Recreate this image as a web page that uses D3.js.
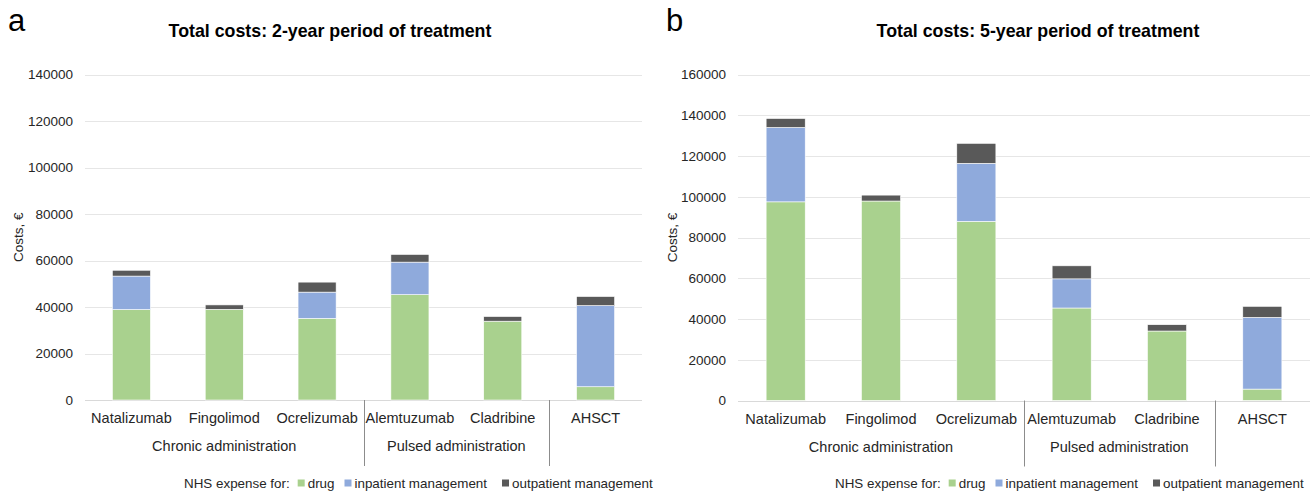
<!DOCTYPE html>
<html>
<head>
<meta charset="utf-8">
<script src="https://cdn.jsdelivr.net/npm/d3@7"></script>
<style>
  body { margin: 0; background: #fff; }
  svg { font-family: "Liberation Sans", Arial, sans-serif; }
</style>
</head>
<body>
<svg id="chart" width="1316" height="494"></svg>
<script>
// categories and groups
const categories = ["Natalizumab", "Fingolimod", "Ocrelizumab", "Alemtuzumab", "Cladribine", "AHSCT"];
const groupNames = ["Chronic administration", "Pulsed administration", ""];
const groupStart = [0, 3, 5];
const groupEnd = [2, 4, 5];
const seriesKeys = ["drug", "inpatient", "outpatient"];
const seriesLabels = ["drug", "inpatient management", "outpatient management"];

// 2-year period
const drug2 = [38900, 39000, 35100, 45300, 33900, 5700];
const inpatient2 = [14400, 0, 11300, 14000, 0, 34900];
const outpatient2 = [2500, 1900, 4300, 3300, 2000, 3900];
const ticks2 = [0, 20000, 40000, 60000, 80000, 100000, 120000, 140000];

// 5-year period
const drug5 = [97500, 97900, 87900, 45400, 34100, 5600];
const inpatient5 = [36500, 0, 28500, 14300, 0, 35200];
const outpatient5 = [4400, 2900, 9800, 6400, 3100, 5400];
const ticks5 = [0, 20000, 40000, 60000, 80000, 100000, 120000, 140000, 160000];

const colors = { drug: "#a9d18e", inpatient: "#8faadc", outpatient: "#595959" };
const textColor = "#262626";

const svg = d3.select("#chart");

function drawPanel(opt) {
	const g = svg.append("g");

	const rows = categories.map((c, i) => ({
		name: c, drug: opt.drug[i], inpatient: opt.inpatient[i], outpatient: opt.outpatient[i]
	}));
	const stacked = d3.stack().keys(seriesKeys)(rows);

	const x = d3.scaleBand().domain(categories).range([opt.x0, opt.x1]).padding(0);
	const y = d3.scaleLinear().domain([0, d3.max(opt.ticks)]).range([opt.yBottom, opt.yTop]);
	const barW = x.step() * 0.41;

	// panel letter
	g.append("text")
		.attr("x", opt.letterX).attr("y", 31)
		.attr("font-size", 31).attr("fill", "#000")
		.text(opt.letter);

	// title
	g.append("text")
		.attr("x", opt.titleX).attr("y", 37)
		.attr("text-anchor", "middle")
		.attr("font-size", 17.8).attr("font-weight", "bold").attr("fill", "#000")
		.text(opt.title);

	// gridlines
	g.append("g").selectAll("line")
		.data(opt.ticks)
		.join("line")
		.attr("x1", opt.x0).attr("x2", opt.x1)
		.attr("y1", d => Math.round(y(d)) + 0.5).attr("y2", d => Math.round(y(d)) + 0.5)
		.attr("stroke", d => d === 0 ? "#d9d9d9" : "#e6e6e6")
		.attr("stroke-width", 1);

	// y axis labels
	const yAxis = d3.axisLeft(y).tickValues(opt.ticks).tickSize(0).tickPadding(0)
		.tickFormat(d3.format("d"));
	const ya = g.append("g")
		.attr("transform", `translate(${opt.x0 - 12},0)`)
		.call(yAxis);
	ya.select(".domain").remove();
	ya.selectAll("text").attr("font-size", 13.5).attr("fill", textColor)
		.attr("font-family", "Liberation Sans, Arial, sans-serif");

	// y axis title
	g.append("text")
		.attr("transform", `translate(${opt.yTitleX},${(opt.yTop + opt.yBottom) / 2}) rotate(-90)`)
		.attr("text-anchor", "middle")
		.attr("font-size", 13.5).attr("fill", textColor)
		.text("Costs, €");

	// bars
	g.append("g").selectAll("g")
		.data(stacked)
		.join("g")
		.attr("fill", d => colors[d.key])
		.selectAll("rect")
		.data(d => d)
		.join("rect")
		.attr("x", d => x(d.data.name) + (x.step() - barW) / 2)
		.attr("width", barW)
		.attr("y", d => y(d[1]))
		.attr("height", d => Math.max(0, y(d[0]) - y(d[1])))
		.attr("stroke", "#fff").attr("stroke-width", 0.6);

	// category labels
	g.append("g").selectAll("text")
		.data(categories)
		.join("text")
		.attr("x", d => x(d) + x.step() / 2)
		.attr("y", opt.yBottom + 23)
		.attr("text-anchor", "middle")
		.attr("font-size", 14.5).attr("fill", textColor)
		.text(d => d);

	// group labels
	g.append("g").selectAll("text")
		.data(groupNames)
		.join("text")
		.attr("x", (d, i) => (x(categories[groupStart[i]]) + x(categories[groupEnd[i]]) + x.step()) / 2)
		.attr("y", opt.yBottom + 51)
		.attr("text-anchor", "middle")
		.attr("font-size", 14.5).attr("fill", textColor)
		.text(d => d);

	// group separators
	g.append("g").selectAll("line")
		.data(groupStart.slice(1))
		.join("line")
		.attr("x1", d => Math.round(x(categories[d])) + 0.5)
		.attr("x2", d => Math.round(x(categories[d])) + 0.5)
		.attr("y1", opt.yBottom).attr("y2", opt.yBottom + 66)
		.attr("stroke", "#8c8c8c").attr("stroke-width", 1);

	// legend
	const lg = g.append("g").attr("transform", `translate(${opt.legendX},${opt.legendY})`);
	const head = lg.append("text")
		.attr("x", 0).attr("y", 5)
		.attr("font-size", 13.4).attr("fill", textColor)
		.text("NHS expense for:");
	let cx = head.node().getComputedTextLength() + 8;
	const gaps = [10, 15, 0];
	seriesKeys.forEach((k, i) => {
		lg.append("rect")
			.attr("x", cx).attr("y", -3.5)
			.attr("width", 7).attr("height", 7)
			.attr("fill", colors[k]);
		const t = lg.append("text")
			.attr("x", cx + 10).attr("y", 5)
			.attr("font-size", 13.4).attr("fill", textColor)
			.text(seriesLabels[i]);
		cx += 10 + t.node().getComputedTextLength() + gaps[i];
	});
}

drawPanel({
	letter: "a", letterX: 8, title: "Total costs: 2-year period of treatment", titleX: 330,
	drug: drug2, inpatient: inpatient2, outpatient: outpatient2, ticks: ticks2,
	x0: 85, x1: 642, yTop: 74.5, yBottom: 400, yTitleX: 23,
	legendX: 184, legendY: 483
});

drawPanel({
	letter: "b", letterX: 666, title: "Total costs: 5-year period of treatment", titleX: 1038,
	drug: drug5, inpatient: inpatient5, outpatient: outpatient5, ticks: ticks5,
	x0: 738, x1: 1310, yTop: 74.5, yBottom: 400.5, yTitleX: 677,
	legendX: 835, legendY: 483
});
</script>
</body>
</html>
